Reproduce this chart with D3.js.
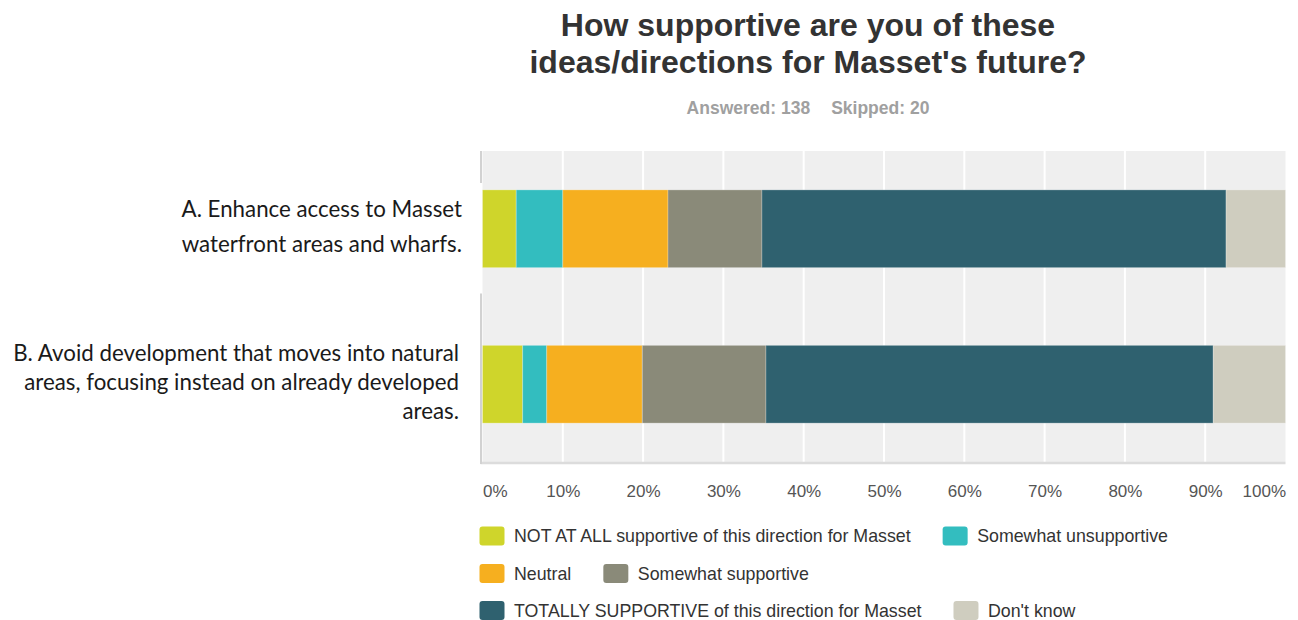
<!DOCTYPE html>
<html>
<head>
<meta charset="utf-8">
<script src="https://cdn.jsdelivr.net/npm/d3@7"></script>
<style>
  html, body { margin: 0; padding: 0; background: #fff; }
  svg { display: block; }
</style>
</head>
<body>
<svg id="chart" width="1298" height="620"></svg>
<script>
// ---------- DATA ----------
const titleLines = ["How supportive are you of these", "ideas/directions for Masset's future?"];
const answeredText = "Answered: 138";
const skippedText = "Skipped: 20";

const categories = ["A", "B"];
const categoryLabels = [
  ["A. Enhance access to Masset", "waterfront areas and wharfs."],
  ["B. Avoid development that moves into natural", "areas, focusing instead on already developed", "areas."]
];

const seriesNames = [
  "NOT AT ALL supportive of this direction for Masset",
  "Somewhat unsupportive",
  "Neutral",
  "Somewhat supportive",
  "TOTALLY SUPPORTIVE of this direction for Masset",
  "Don't know"
];
const notAtAll        = [4.2, 5.0];
const somewhatUnsup   = [5.8, 3.0];
const neutral         = [13.1, 11.9];
const somewhatSup     = [11.7, 15.4];
const totallySup      = [57.8, 55.7];
const dontKnow        = [7.4, 9.0];
const seriesValues = [notAtAll, somewhatUnsup, neutral, somewhatSup, totallySup, dontKnow];

const tickValues = [0, 10, 20, 30, 40, 50, 60, 70, 80, 90, 100];
const legendRows = [[0, 1], [2, 3], [4, 5]];

// ---------- STYLE ----------
const colors = ["#cfd52b", "#33bdbf", "#f6af1f", "#8a8a79", "#2f616f", "#cfcdbf"];
const sansFont = "'Liberation Sans', Arial, Helvetica, sans-serif";
const labelFont = "Lato, 'Open Sans', sans-serif";

const svg = d3.select("#chart");
const plot = { left: 482.5, right: 1285.5, top: 151, bottom: 462 };

const x = d3.scaleLinear().domain([0, 100]).range([plot.left, plot.right]);
const y = d3.scalePoint().domain(categories).range([plot.top, plot.bottom]).padding(0.5);
const barH = y.step() * 0.5;

// table for stack
const table = categories.map((c, i) => {
  const row = { cat: c };
  seriesNames.forEach((s, j) => row[s] = seriesValues[j][i]);
  return row;
});
const stacked = d3.stack().keys(seriesNames)(table);

// ---------- TITLE ----------
const titleX = 808;
svg.append("g").selectAll("text").data(titleLines).join("text")
  .attr("x", titleX).attr("y", (d, i) => 36 + i * 37)
  .attr("text-anchor", "middle")
  .style("font-family", sansFont).style("font-weight", "bold")
  .style("font-size", "32px").style("fill", "#333")
  .text(d => d);

const sub = svg.append("g").style("font-family", sansFont).style("font-weight", "bold")
  .style("font-size", "17.5px").style("fill", "#a0a0a0");
const t1 = sub.append("text").attr("y", 114).text(answeredText);
const t2 = sub.append("text").attr("y", 114).text(skippedText);
const gapSub = 21;
const w1 = t1.node().getComputedTextLength(), w2 = t2.node().getComputedTextLength();
const subStart = titleX - (w1 + gapSub + w2) / 2;
t1.attr("x", subStart);
t2.attr("x", subStart + w1 + gapSub);

// ---------- PLOT BACKGROUND ----------
svg.append("rect")
  .attr("x", plot.left).attr("y", plot.top)
  .attr("width", plot.right - plot.left).attr("height", plot.bottom - plot.top)
  .attr("fill", "#efefef");

// gridlines
svg.append("g").selectAll("line").data(tickValues.filter(d => d > 0 && d < 100)).join("line")
  .attr("x1", d => x(d)).attr("x2", d => x(d))
  .attr("y1", plot.top).attr("y2", plot.bottom)
  .attr("stroke", "#fff").attr("stroke-width", 2);

// bottom axis line
svg.append("line")
  .attr("x1", plot.left - 2).attr("x2", plot.right)
  .attr("y1", plot.bottom + 1).attr("y2", plot.bottom + 1)
  .attr("stroke", "#dcdcdc").attr("stroke-width", 2.5);

// left axis line (segmented as in the reference)
const leftSegs = [[plot.top, y("A") - barH / 2 - 7], [y("B") - barH / 2 - 52, plot.bottom + 2]];
svg.append("g").selectAll("line").data(leftSegs).join("line")
  .attr("x1", plot.left - 1.5).attr("x2", plot.left - 1.5)
  .attr("y1", d => d[0]).attr("y2", d => d[1])
  .attr("stroke", "#d2d2d2").attr("stroke-width", 2);

// ---------- BARS ----------
svg.append("g").selectAll("g").data(stacked).join("g")
  .attr("fill", (d, i) => colors[i])
  .selectAll("rect").data(d => d).join("rect")
  .attr("x", d => x(d[0]))
  .attr("width", d => x(d[1]) - x(d[0]))
  .attr("y", d => y(d.data.cat) - barH / 2)
  .attr("height", barH)
  .attr("stroke", "rgba(255,255,255,0.25)").attr("stroke-width", 1);

// ---------- X AXIS ----------
const xAxis = svg.append("g")
  .attr("transform", `translate(0,${plot.bottom})`)
  .call(d3.axisBottom(x).tickValues(tickValues).tickFormat(d => d + "%").tickSize(0).tickPadding(23));
xAxis.select(".domain").remove();
xAxis.selectAll("text")
  .style("font-family", sansFont).style("font-size", "17px").style("fill", "#555")
  .attr("text-anchor", d => d === 0 ? "start" : (d === 100 ? "end" : "middle"));

// ---------- CATEGORY LABELS ----------
const lineGaps = [35, 29];
const labelX = [462, 459];
const labelG = svg.append("g").style("font-family", labelFont).style("font-size", "22.3px").style("fill", "#1a1a1a");
categories.forEach((c, i) => {
  const lines = categoryLabels[i];
  const gap = lineGaps[i];
  const first = y(c) - (lines.length - 1) * gap / 2 + 6;
  labelG.append("g").selectAll("text").data(lines).join("text")
    .attr("x", labelX[i]).attr("y", (d, k) => first + k * gap)
    .attr("text-anchor", "end")
    .text(d => d);
});

// ---------- LEGEND ----------
const legend = svg.append("g").style("font-family", sansFont).style("font-size", "17.8px").style("fill", "#333");
const legendX0 = 479.5, rowY = [536, 573.5, 610.5];
legendRows.forEach((row, r) => {
  let cx = legendX0;
  row.forEach(idx => {
    const g = legend.append("g");
    g.append("rect")
      .attr("x", cx).attr("y", rowY[r] - 9.5)
      .attr("width", 25).attr("height", 19).attr("rx", 3)
      .attr("fill", colors[idx]);
    const t = g.append("text").attr("x", cx + 34.5).attr("y", rowY[r] + 6).text(seriesNames[idx]);
    cx += 34.5 + t.node().getComputedTextLength() + 32;
  });
});
</script>
</body>
</html>
